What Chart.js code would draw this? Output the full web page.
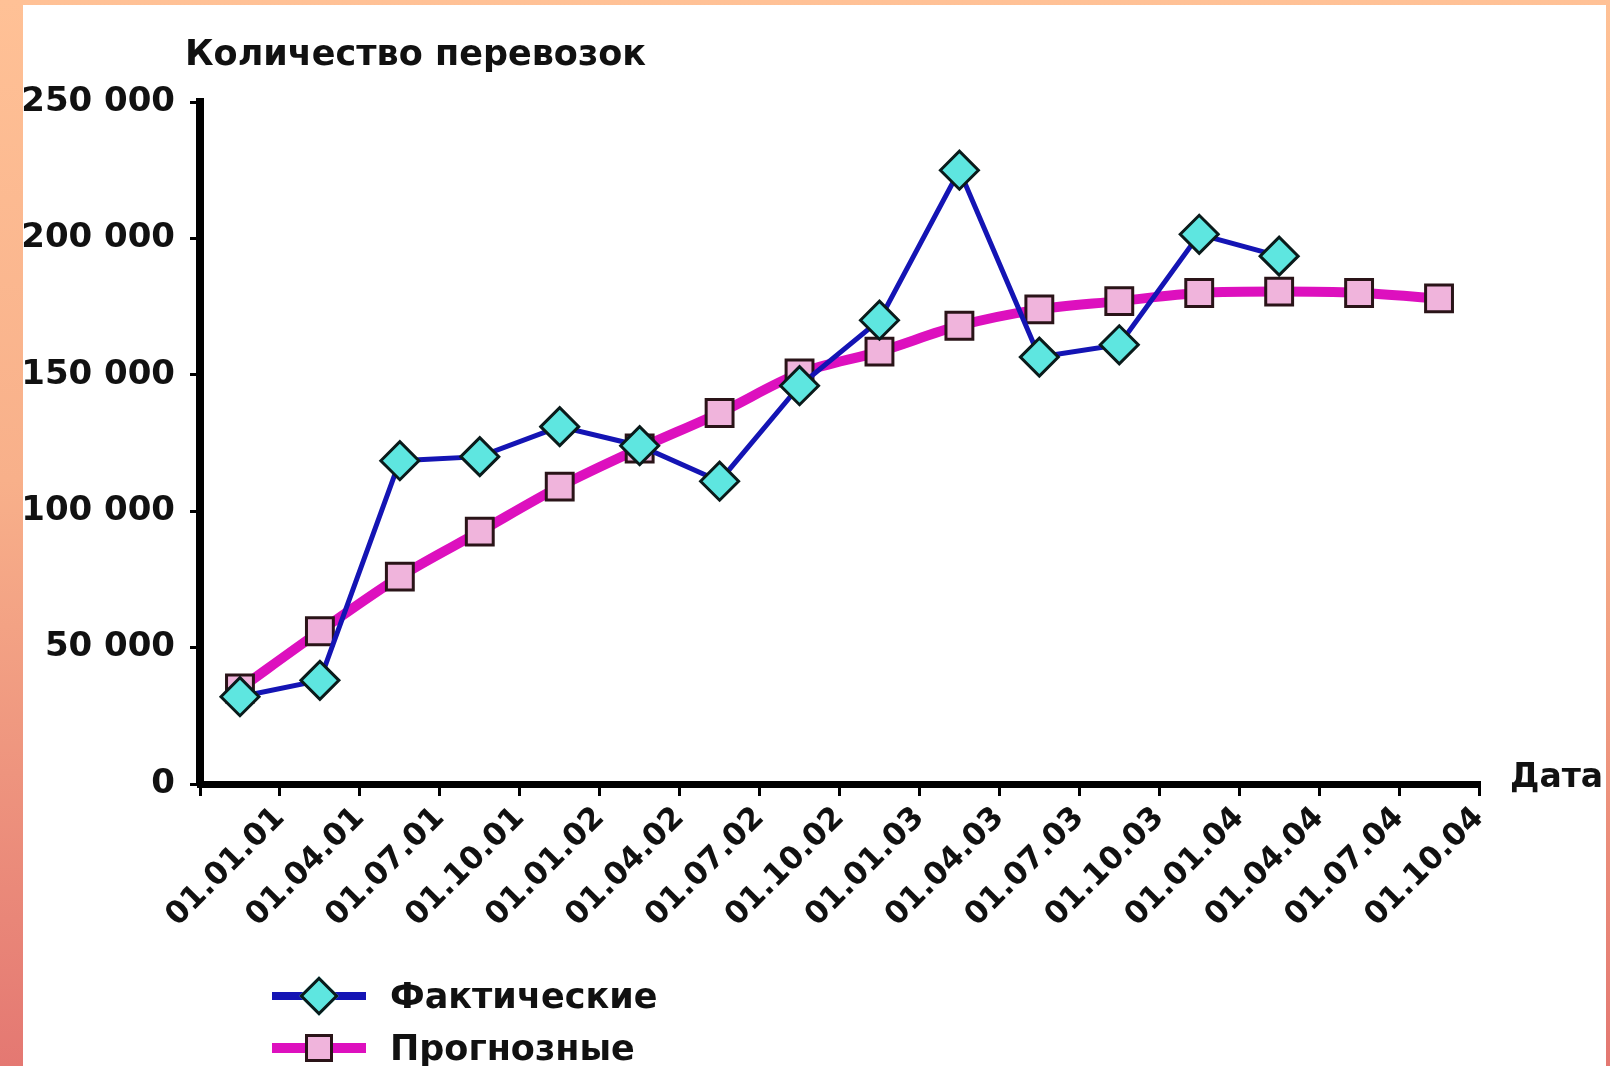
<!DOCTYPE html>
<html>
<head>
<meta charset="utf-8">
<script src="https://cdn.jsdelivr.net/npm/chart.js@4.4.1/dist/chart.umd.min.js"></script>
<style>
  html, body { margin: 0; padding: 0; }
  body {
    width: 1610px; height: 1066px; overflow: hidden; position: relative;
    background: linear-gradient(to bottom, #ffc196 0%, #f8b08a 45%, #e47872 100%);
    font-family: "DejaVu Sans", sans-serif; font-weight: bold; color: #111;
  }
  #panel { position: absolute; left: 23px; top: 5px; right: 4px; bottom: 0; background: #fff; }
  #chart { position: absolute; left: 0; top: 0; }
  .txt { position: absolute; font-size: 34px; line-height: 1; white-space: nowrap; }
  .leg { position: absolute; left: 272px; width: 94px; }
  .leg .ln { position: absolute; left: 0; right: 0; }
  .leg .mk { position: absolute; box-sizing: border-box; border: 3px solid #0a1a1a; }
</style>
</head>
<body>
<div id="panel"></div>
<canvas id="chart" width="1610" height="1066"></canvas>
<div class="txt" style="left:185px; top:36px; font-size:35px;">Количество перевозок</div>
<div class="txt" style="left:1510px; top:759px; font-size:33px;">Дата</div>

<div class="leg" style="top:996px;">
  <div class="ln" style="top:-4px; height:8px; background:#1414b4;"></div>
  <div class="mk" style="left:33px; top:-14px; width:28px; height:28px; background:#5ee6e0; transform:rotate(45deg);"></div>
</div>
<div class="txt" style="left:390px; top:979px; font-size:35px;">Фактические</div>
<div class="leg" style="top:1048px;">
  <div class="ln" style="top:-5px; height:10px; background:#dd10be;"></div>
  <div class="mk" style="left:33px; top:-14px; width:28px; height:28px; background:#f0b4dc; border-color:#2a1418;"></div>
</div>
<div class="txt" style="left:390px; top:1031px; font-size:35px;">Прогнозные</div>

<script>
// quarter labels on the date axis
const categories = ["01.01.01", "01.04.01", "01.07.01", "01.10.01",
                    "01.01.02", "01.04.02", "01.07.02", "01.10.02",
                    "01.01.03", "01.04.03", "01.07.03", "01.10.03",
                    "01.01.04", "01.04.04", "01.07.04", "01.10.04"]

// actual shipments (ends after 14 quarters)
const actualValues = [32000, 38000, 118500, 120000, 131000, 124000, 111000,
                      146000, 170000, 225000, 156500, 161000, 201500, 193500]

// forecast
const forecastValues = [35000, 56000, 76000, 92500, 109000, 123000, 136000, 150500,
                        158500, 168000, 174000, 177000, 180000, 180500, 180000, 178000]

const yTickValues = [0, 50000, 100000, 150000, 200000, 250000]
const yTickLabels = ["0", "50 000", "100 000", "150 000", "200 000", "250 000"]

const seriesNames = ["Фактические", "Прогнозные"]

const font = { family: "'DejaVu Sans', sans-serif", weight: "bold" }

new Chart(document.getElementById("chart"), {
  type: "line",
  data: {
    labels: categories,
    datasets: [
      {
        label: seriesNames[0],
        data: actualValues,
        borderColor: "#1414b4",
        borderWidth: 5,
        tension: 0,
        pointStyle: "rectRot",
        pointRadius: 19,
        pointBackgroundColor: "#5ee6e0",
        pointBorderColor: "#0a1a1a",
        pointBorderWidth: 3
      },
      {
        label: seriesNames[1],
        data: forecastValues,
        borderColor: "#dd10be",
        borderWidth: 10,
        cubicInterpolationMode: "monotone",
        pointStyle: "rect",
        pointRadius: 19,
        pointBackgroundColor: "#f0b4dc",
        pointBorderColor: "#2a1418",
        pointBorderWidth: 3
      }
    ]
  },
  options: {
    responsive: false,
    animation: false,
    devicePixelRatio: 1,
    layout: { padding: { top: 102, right: 131, left: 0, bottom: 0 } },
    plugins: {
      legend: { display: false },
      tooltip: { enabled: false }
    },
    scales: {
      x: {
        offset: true,
        border: { display: true, color: "#000", width: 7 },
        grid: {
          offset: true,
          drawOnChartArea: false,
          tickLength: 12,
          lineWidth: 3,
          color: "#000"
        },
        ticks: {
          autoSkip: false,
          minRotation: 45,
          maxRotation: 45,
          labelOffset: 40,
          padding: 4,
          color: "#111",
          font: Object.assign({ size: 31 }, font)
        },
        afterFit: (scale) => { scale.height = 282 }
      },
      y: {
        min: 0,
        max: 250000,
        border: { display: true, color: "#000", width: 8 },
        grid: {
          drawOnChartArea: false,
          tickLength: 10,
          lineWidth: 3,
          color: "#000"
        },
        ticks: {
          stepSize: 50000,
          padding: 15,
          color: "#111",
          font: Object.assign({ size: 34 }, font),
          callback: (v) => yTickLabels[yTickValues.indexOf(v)]
        },
        afterFit: (scale) => { scale.width = 200 }
      }
    }
  }
})
</script>
</body>
</html>
